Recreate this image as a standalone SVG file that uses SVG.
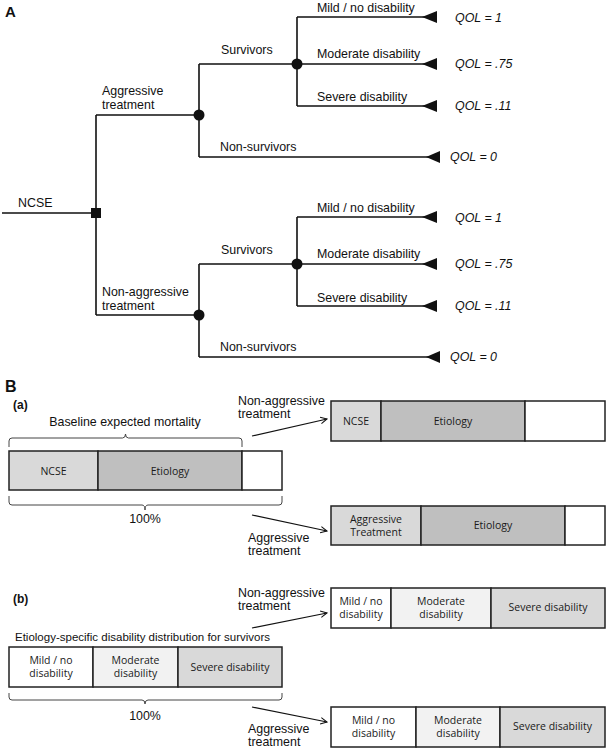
<svg xmlns="http://www.w3.org/2000/svg" width="608" height="750" viewBox="0 0 608 750">
<style>
.t{font-family:"Liberation Sans",Arial,sans-serif;font-size:12.4px;fill:#111}
.q{font-family:"Liberation Sans",Arial,sans-serif;font-size:12.4px;font-style:italic;fill:#111}
.h{font-family:"Liberation Sans",Arial,sans-serif;font-weight:bold;fill:#111}
.b{font-family:"Open Sans","Liberation Sans",sans-serif;font-size:10.5px;fill:#1a1a1a;text-anchor:middle}
.ln{fill:none;stroke:#111;stroke-width:1.6}
.br{fill:none;stroke:#444;stroke-width:1}
.bar{stroke:#222;stroke-width:1.5}
.ar{fill:none;stroke:#111;stroke-width:1.2}
</style>
<defs>
<marker id="oa" viewBox="0 0 10 10" refX="9" refY="5" markerWidth="8" markerHeight="8" markerUnits="userSpaceOnUse" orient="auto">
<path d="M1,1 L9,5 L1,9" fill="none" stroke="#111" stroke-width="1.3"/>
</marker>
</defs>
<text class="h" x="5" y="17" font-size="15">A</text>
<g id="connectors">
<path class="ln" d="M2,213 H96 M96,115 V315 M96,115 H199 M96,315 H199"/>
<path class="ln" d="M199,64 V157 M199,64 H297 M199,157 H438"/>
<path class="ln" d="M297,17 V106 M297,17 H436 M297,64 H436 M297,106 H436"/>
<path class="ln" d="M199,264 V357 M199,264 H297 M199,357 H438"/>
<path class="ln" d="M297,217 V306 M297,217 H436 M297,264 H436 M297,306 H436"/>
<g fill="#111">
<path d="M422,17 L437,11 V23 Z"/><path d="M422,64 L437,58 V70 Z"/><path d="M422,106 L437,100 V112 Z"/><path d="M426,157 L440,151 V163 Z"/>
<path d="M422,217 L437,211 V223 Z"/><path d="M422,264 L437,258 V270 Z"/><path d="M422,306 L437,300 V312 Z"/><path d="M426,357 L440,351 V363 Z"/>
</g>
<path class="ar" marker-end="url(#oa)" d="M252,436 L327,419"/>
<path class="ar" marker-end="url(#oa)" d="M252,515 L327,531"/>
<path class="ar" marker-end="url(#oa)" d="M252,628 L327,613"/>
<path class="ar" marker-end="url(#oa)" d="M252,707 L327,722"/>
</g>
<g id="decision"><rect x="91" y="208" width="10" height="10" fill="#111"/><text class="t" x="18" y="207">NCSE</text></g>
<g id="chance-aggr"><circle cx="199" cy="115" r="5.5" fill="#111"/><text class="t" x="102" y="95">Aggressive</text><text class="t" x="102" y="109">treatment</text></g>
<g id="chance-aggr-surv"><circle cx="297" cy="64" r="5.5" fill="#111"/><text class="t" x="221" y="54">Survivors</text><text class="t" x="220" y="151">Non-survivors</text></g>
<g id="outcomes-aggr">
<text class="t" x="317" y="11.5">Mild / no disability</text><text class="t" x="317" y="58">Moderate disability</text><text class="t" x="317" y="101">Severe disability</text>
<text class="q" x="455" y="21.5">QOL = 1</text><text class="q" x="455" y="68">QOL = .75</text><text class="q" x="455" y="110">QOL = .11</text><text class="q" x="450" y="161">QOL = 0</text>
</g>
<g id="chance-nonaggr"><circle cx="199" cy="315" r="5.5" fill="#111"/><text class="t" x="102" y="296">Non-aggressive</text><text class="t" x="102" y="310">treatment</text></g>
<g id="chance-nonaggr-surv"><circle cx="297" cy="264" r="5.5" fill="#111"/><text class="t" x="221" y="254">Survivors</text><text class="t" x="220" y="351">Non-survivors</text></g>
<g id="outcomes-nonaggr">
<text class="t" x="317" y="211.5">Mild / no disability</text><text class="t" x="317" y="258">Moderate disability</text><text class="t" x="317" y="301.5">Severe disability</text>
<text class="q" x="455" y="222">QOL = 1</text><text class="q" x="455" y="268">QOL = .75</text><text class="q" x="455" y="310">QOL = .11</text><text class="q" x="450" y="361">QOL = 0</text>
</g>
<text class="h" x="5" y="392" font-size="16">B</text>
<text class="h" x="13" y="409" font-size="12">(a)</text>
<g id="a-baseline">
<text class="t" x="125" y="426" text-anchor="middle">Baseline expected mortality</text>
<path class="br" d="M9,447 V441 Q9,438 12,438 H122.5 Q125.5,438 125.5,434 Q125.5,438 128.5,438 H239 Q242,438 242,441 V447"/>
<rect class="bar" x="9" y="451" width="89" height="39" fill="#d9d9d9"/>
<rect class="bar" x="98" y="451" width="144" height="39" fill="#bfbfbf"/>
<rect class="bar" x="242" y="451" width="40" height="39" fill="#fff"/>
<text class="b" x="53.5" y="475">NCSE</text><text class="b" x="170" y="475">Etiology</text>
<path class="br" d="M9,496 V502 Q9,505 12,505 H142 Q145,505 145,510 Q145,505 148,505 H279 Q282,505 282,502 V496"/>
<text class="t" x="145" y="523" text-anchor="middle">100%</text>
</g>
<g id="a-nonaggr">
<text class="t" x="238" y="405">Non-aggressive</text><text class="t" x="238" y="418">treatment</text>
<rect class="bar" x="331" y="401" width="50" height="40" fill="#d9d9d9"/>
<rect class="bar" x="381" y="401" width="144" height="40" fill="#bfbfbf"/>
<rect class="bar" x="525" y="401" width="80" height="40" fill="#fff"/>
<text class="b" x="356" y="425">NCSE</text><text class="b" x="453" y="425">Etiology</text>
</g>
<g id="a-aggr">
<text class="t" x="248" y="542">Aggressive</text><text class="t" x="248" y="555">treatment</text>
<rect class="bar" x="331" y="506" width="90" height="39" fill="#d9d9d9"/>
<rect class="bar" x="421" y="506" width="144" height="39" fill="#bfbfbf"/>
<rect class="bar" x="565" y="506" width="40" height="39" fill="#fff"/>
<text class="b" x="376" y="523">Aggressive</text><text class="b" x="376" y="536">Treatment</text><text class="b" x="493" y="529">Etiology</text>
</g>
<text class="h" x="13" y="603" font-size="12">(b)</text>
<g id="b-baseline">
<text class="t" x="15" y="641" style="font-size:11.5px">Etiology-specific disability distribution for survivors</text>
<rect class="bar" x="9" y="647" width="84" height="40" fill="#fff"/>
<rect class="bar" x="93" y="647" width="85" height="40" fill="#f2f2f2"/>
<rect class="bar" x="178" y="647" width="104" height="40" fill="#d9d9d9"/>
<text class="b" x="51" y="664">Mild / no</text><text class="b" x="51" y="677">disability</text>
<text class="b" x="135.5" y="664">Moderate</text><text class="b" x="135.5" y="677">disability</text>
<text class="b" x="230" y="671">Severe disability</text>
<path class="br" d="M9,693 V697 Q9,700 12,700 H142 Q145,700 145,704 Q145,700 148,700 H279 Q282,700 282,697 V693"/>
<text class="t" x="145" y="720" text-anchor="middle">100%</text>
</g>
<g id="b-nonaggr">
<text class="t" x="238" y="597">Non-aggressive</text><text class="t" x="238" y="610">treatment</text>
<rect class="bar" x="331" y="588" width="60" height="40" fill="#fff"/>
<rect class="bar" x="391" y="588" width="100" height="40" fill="#f2f2f2"/>
<rect class="bar" x="491" y="588" width="114" height="40" fill="#d9d9d9"/>
<text class="b" x="361" y="605">Mild / no</text><text class="b" x="361" y="618">disability</text>
<text class="b" x="441" y="605">Moderate</text><text class="b" x="441" y="618">disability</text>
<text class="b" x="548" y="611">Severe disability</text>
</g>
<g id="b-aggr">
<text class="t" x="248" y="733">Aggressive</text><text class="t" x="248" y="746">treatment</text>
<rect class="bar" x="331" y="707" width="85" height="40" fill="#fff"/>
<rect class="bar" x="416" y="707" width="84" height="40" fill="#f2f2f2"/>
<rect class="bar" x="500" y="707" width="105" height="40" fill="#d9d9d9"/>
<text class="b" x="373.5" y="724">Mild / no</text><text class="b" x="373.5" y="737">disability</text>
<text class="b" x="458" y="724">Moderate</text><text class="b" x="458" y="737">disability</text>
<text class="b" x="552.5" y="730">Severe disability</text>
</g>
</svg>
